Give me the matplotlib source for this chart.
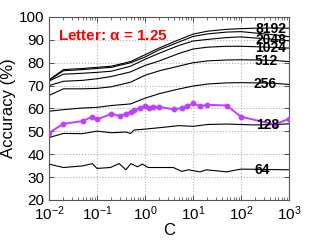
import matplotlib
matplotlib.use("Agg")
import matplotlib.pyplot as plt
import numpy as np
from matplotlib.ticker import LogLocator, NullFormatter

plt.rcParams['font.family'] = ['Liberation Sans', 'DejaVu Sans']
plt.rcParams['mathtext.default'] = 'regular'

C_grid = [0.01, 0.02, 0.05, 0.1, 0.2, 0.5, 1, 2, 5, 10, 20, 50, 100, 200, 500, 1000]
acc_8192 = [72.5, 77.0, 77.5, 78.0, 78.5, 80.5, 83.5, 86.5, 90.0, 92.5, 93.8, 94.6, 94.9, 95.1, 95.2, 95.1]
acc_4096 = [72.3, 76.5, 77.0, 77.5, 78.0, 80.0, 82.5, 85.7, 89.0, 91.5, 92.6, 93.4, 93.6, 93.0, 92.2, 91.4]
acc_2048 = [72.0, 75.0, 75.4, 75.8, 76.3, 78.5, 81.5, 84.2, 87.5, 89.5, 90.2, 91.0, 91.3, 90.8, 90.2, 89.6]
acc_1024 = [70.0, 71.9, 72.3, 73.0, 74.0, 76.0, 78.8, 80.8, 84.0, 86.0, 86.8, 87.2, 87.2, 87.0, 86.7, 86.4]
acc_512 = [65.7, 68.6, 68.6, 68.8, 69.5, 71.5, 74.5, 76.5, 78.5, 80.0, 80.8, 81.2, 81.3, 81.2, 81.0, 80.5]
acc_256 = [58.8, 59.5, 60.2, 60.5, 61.3, 62.0, 64.5, 66.5, 68.5, 69.8, 70.7, 71.2, 71.3, 71.2, 71.0, 70.5]

C_128 = [0.01, 0.02, 0.05, 0.1, 0.2, 0.4, 0.5, 0.6, 1, 2, 3, 5, 10, 20, 50, 100, 200, 500, 1000]
acc_128 = [47.3, 49.1, 49.0, 50.1, 49.4, 49.7, 49.1, 50.6, 51.0, 51.6, 52.0, 52.5, 52.2, 53.0, 53.2, 53.0, 52.8, 53.0, 53.3]

C_64 = [0.01, 0.02, 0.05, 0.08, 0.1, 0.19, 0.29, 0.4, 0.51, 0.7, 0.88, 1.17, 3.9, 5.8, 8, 14, 19, 50, 100, 1000]
acc_64 = [35.7, 34.2, 34.9, 35.9, 33.8, 34.2, 35.9, 33.2, 35.9, 34.5, 35.7, 34.2, 34.2, 32.5, 33.2, 32.3, 33.2, 32.3, 33.5, 33.2]

C_purple = [0.01, 0.02, 0.05, 0.08, 0.1, 0.2, 0.3, 0.4, 0.5, 0.6, 0.8, 1, 1.2, 1.5, 2, 4, 6, 7.5, 10, 14, 20, 50, 100, 500, 1000]
acc_purple = [49.4, 53.3, 54.5, 56.4, 55.2, 57.7, 56.7, 57.8, 58.4, 59.3, 60.3, 61.0, 60.3, 60.6, 60.7, 59.6, 60.3, 61.0, 62.2, 61.0, 61.6, 61.3, 56.4, 53.0, 55.5]

labels = ['8192', '2048', '1024', '512', '256', '128', '64']
label_y = [94.8, 89.9, 86.6, 80.6, 70.9, 53.0, 33.2]
label_x = [200, 200, 200, 195, 185, 210, 195]

fig = plt.figure(figsize=(3.19, 2.40), dpi=100)
ax = fig.add_axes([0.1536, 0.1667, 0.7524, 0.7625])

for ys in [acc_8192, acc_4096, acc_2048, acc_1024, acc_512, acc_256]:
    ax.plot(C_grid, ys, color='black', lw=0.8)
ax.plot(C_128, acc_128, color='black', lw=0.8)
ax.plot(C_64, acc_64, color='black', lw=0.8)
ax.plot(C_purple, acc_purple, color='#BF3FFF', lw=1.4, marker='o', ms=3.2,
        mec='#BF3FFF', mfc='#BF3FFF', zorder=5)

for t, xx, yy in zip(labels, label_x, label_y):
    ax.text(xx, yy, t, fontsize=10, fontweight='bold', ha='left', va='center',
            color='black', zorder=6)

ax.text(0.0155, 91.7, r'Letter: $\alpha$ = 1.25', fontsize=11, fontweight='bold',
        color='red', ha='left', va='center')

ax.set_xscale('log')
ax.set_xlim(0.01, 1000)
ax.set_ylim(20, 100)
ax.set_yticks(np.arange(20, 101, 10))
ax.xaxis.set_major_locator(LogLocator(base=10, numticks=10))
ax.xaxis.set_minor_locator(LogLocator(base=10, subs=np.arange(2, 10), numticks=20))
ax.xaxis.set_minor_formatter(NullFormatter())

ax.grid(True, which='major', linestyle=':', color='#b0b0b0', lw=0.8)
ax.tick_params(which='both', direction='in', top=True, right=True, colors='#333333',
               labelcolor='black', labelsize=11)
ax.tick_params(which='major', length=3.5, width=0.6)
ax.tick_params(which='minor', length=2, width=0.5)
ax.tick_params(axis='x', pad=3)
for s in ax.spines.values():
    s.set_color('#555555')
    s.set_linewidth(0.8)

ax.set_xlabel('C', fontsize=12, labelpad=0)
ax.set_ylabel('Accuracy (%)', fontsize=12, labelpad=2)

fig.savefig('out.png', dpi=100)
